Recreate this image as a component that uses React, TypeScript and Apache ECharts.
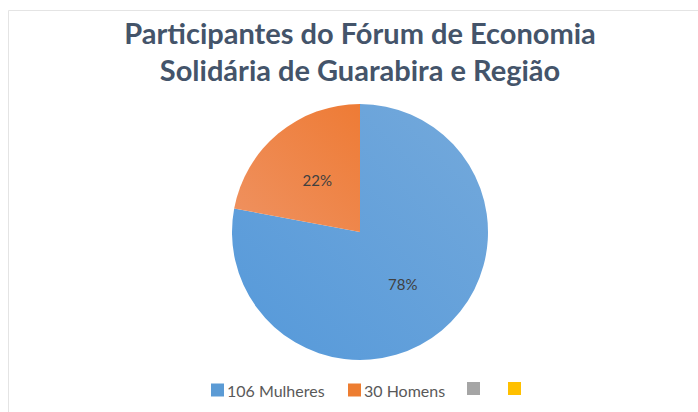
import React, { useEffect, useRef } from "react";
import * as echarts from "echarts";

const titleLines = ["Participantes do Fórum de Economia", "Solidária de Guarabira e Região"];
const categories = ["106 Mulheres", "30 Homens", "extra3", "extra4"];
const values = [106, 30, 0, 0];
const colors = ["#5B9BD5", "#ED7D31", "#A5A5A5", "#FFC000"];
const legendLefts = [211, 348, 467, 508];

export default function App() {
  const ref = useRef<HTMLDivElement>(null);
  useEffect(() => {
    document.body.style.margin = "0";
    const chart = echarts.init(ref.current!, null, { renderer: "svg" });
    const grads = [
      new echarts.graphic.LinearGradient(1, 0, 0, 1, [
        { offset: 0, color: "#74A9DB" },
        { offset: 1, color: "#5599DA" },
      ]),
      new echarts.graphic.LinearGradient(1, 0, 0, 1, [
        { offset: 0, color: "#EE7B35" },
        { offset: 1, color: "#EF9261" },
      ]),
      colors[2],
      colors[3],
    ];
    const data = categories.map((name, i) => ({
      name,
      value: values[i],
      itemStyle: { color: grads[i] },
      label: { show: i < 2 },
    }));
    const legends = categories.map((name, i) => ({
      data: [{ name, itemStyle: { color: colors[i] } }],
      left: legendLefts[i],
      top: 382,
      padding: 0,
      itemWidth: 13,
      itemHeight: 13,
      itemGap: 4,
      icon: "rect",
      formatter: (n: string) => (i < 2 ? n : ""),
      textStyle: { fontFamily: "Lato", fontSize: 16, color: "#595959", padding: [0, 0, 0, -2] },
    }));
    chart.setOption({
      animation: false,
      backgroundColor: "#FFFFFF",
      legend: legends,
      graphic: [
        {
          type: "rect",
          shape: { x: 8.5, y: 10.5, width: 800, height: 500 },
          style: { fill: "none", stroke: "#E4E4E4", lineWidth: 1 },
          silent: true,
        },
        {
          type: "text",
          x: 360,
          y: 32,
          style: {
            text: titleLines[0],
            fontFamily: "Lato",
            fontWeight: "bold",
            fontSize: 29,
            fill: "#44546A",
            align: "center",
            verticalAlign: "middle",
          },
        },
        {
          type: "text",
          x: 360,
          y: 69,
          style: {
            text: titleLines[1],
            fontFamily: "Lato",
            fontWeight: "bold",
            fontSize: 29,
            fill: "#44546A",
            align: "center",
            verticalAlign: "middle",
          },
        },
      ],
      series: [
        {
          type: "pie",
          center: [360, 232],
          radius: 128,
          startAngle: 90,
          clockwise: true,
          stillShowZeroSum: false,
          percentPrecision: 0,
          avoidLabelOverlap: false,
          label: {
            position: "inside",
            formatter: "{d}%",
            fontFamily: "Lato",
            fontSize: 15,
            color: "#404040",
          },
          labelLine: { show: false },
          emphasis: { disabled: true },
          itemStyle: { borderWidth: 0 },
          data,
        },
      ],
    });
    return () => chart.dispose();
  }, []);
  return <div ref={ref} style={{ width: 698, height: 412, position: "absolute", left: 0, top: 0 }} />;
}
